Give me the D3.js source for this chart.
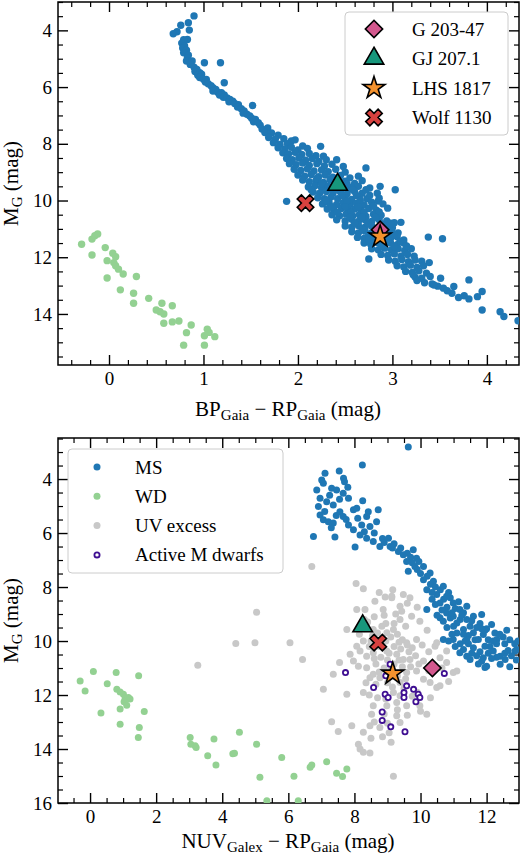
<!DOCTYPE html>
<html>
<head>
<meta charset="utf-8">
<script src="https://cdn.jsdelivr.net/npm/d3@7"></script>
<style>
  body { margin: 0; background: #fff; }
  text { font-family: "Liberation Serif", "DejaVu Serif", serif; fill: #000; }
</style>
</head>
<body>
<div id="wrapper"></div>
<script>
//* Data: [colour, absolute G magnitude]

// top panel: BP-RP vs M_G
const topMS = [
  [0.90,3.49],[0.84,3.73],[0.76,3.82],[0.85,3.99],[0.72,4.05],[0.68,4.12],[0.83,4.32],[0.79,4.33],[0.77,4.45],
  [0.80,4.55],[0.78,4.62],[0.82,4.70],[0.79,4.79],[0.84,4.88],[0.83,4.97],[0.82,5.08],[0.88,5.08],[0.86,5.20],
  [0.90,5.30],[1.01,5.14],[1.18,5.14],[0.93,5.38],[0.91,5.45],[0.96,5.49],[0.94,5.58],[0.98,5.55],[0.96,5.66],
  [1.00,5.72],[1.03,5.73],[1.02,5.82],[1.22,5.85],[1.05,5.88],[1.08,5.95],[1.10,6.02],[1.13,6.08],[1.10,6.14],
  [1.15,6.18],[1.19,6.20],[1.17,6.28],[1.22,6.28],[1.21,6.36],[1.25,6.38],[1.28,6.44],[1.27,6.52],[1.31,6.50],
  [1.33,6.58],[1.37,6.62],[1.36,6.70],[1.52,6.65],[1.40,6.76],[1.43,6.84],[1.42,6.92],[1.46,6.96],[1.49,7.02],
  [1.51,7.10],[1.55,7.14],[1.53,7.22],[1.58,7.26],[1.60,7.34],
  [1.62,7.48],[1.68,7.44],[1.65,7.60],[1.72,7.62],[1.79,7.70],[1.69,7.78],[1.76,7.84],[1.85,7.82],[1.93,7.90],
  [1.74,7.96],[1.81,8.02],[1.89,8.00],[1.97,7.86],[2.05,8.08],[1.79,8.14],[1.86,8.18],[1.93,8.12],[2.00,8.22],
  [2.10,8.16],[2.24,8.09],[1.84,8.32],[1.90,8.36],[1.97,8.30],[2.04,8.38],[2.12,8.34],[2.19,8.42],[2.27,8.44],
  [1.88,8.52],[1.94,8.56],[2.01,8.50],[2.08,8.58],[2.15,8.52],[2.22,8.62],[2.30,8.56],[2.41,8.56],[1.91,8.70],
  [1.98,8.74],[2.05,8.68],[2.12,8.76],[2.20,8.70],[2.28,8.78],[2.36,8.72],[2.48,8.80],[1.96,8.90],[2.03,8.94],
  [2.10,8.88],[2.17,8.96],[2.25,8.92],[2.32,8.98],[2.40,8.90],[2.50,9.00],[2.72,8.85],[2.00,9.10],[2.07,9.14],
  [2.14,9.08],[2.22,9.16],[2.29,9.10],[2.37,9.18],[2.45,9.12],[2.55,9.20],[2.64,9.14],[2.05,9.28],[2.12,9.34],
  [2.19,9.30],[2.27,9.36],[2.34,9.28],[2.42,9.38],[2.50,9.32],[2.60,9.40],[2.68,9.30],[2.11,9.52],[2.18,9.48],
  [2.25,9.54],[2.32,9.50],[2.39,9.56],[2.47,9.48],[2.55,9.54],[2.64,9.50],[2.76,9.56],[2.87,9.50],[3.03,9.62],
  [2.16,9.70],[2.23,9.74],[2.30,9.68],[2.37,9.74],[2.45,9.70],[2.52,9.76],[2.60,9.68],[2.68,9.74],[2.84,9.74],
  [2.21,9.90],[2.28,9.94],[2.35,9.88],[2.42,9.94],[2.50,9.90],[2.57,9.96],[2.65,9.88],[2.73,9.94],[2.86,9.92],
  [1.88,10.03],[2.26,10.12],[2.33,10.08],[2.41,10.14],[2.48,10.08],[2.55,10.14],[2.62,10.10],[2.70,10.16],
  [2.78,10.06],[2.90,10.12],[2.31,10.30],[2.38,10.34],[2.46,10.28],[2.53,10.34],[2.60,10.30],[2.67,10.36],
  [2.75,10.28],[2.83,10.34],[2.95,10.27],[2.36,10.50],[2.44,10.54],[2.51,10.48],[2.58,10.54],[2.65,10.50],
  [2.72,10.56],[2.80,10.48],[2.88,10.52],[2.41,10.68],[2.50,10.72],[2.57,10.66],[2.64,10.74],[2.71,10.68],
  [2.78,10.74],[2.86,10.68],[2.94,10.72],[3.02,10.78],[3.09,10.77],[2.50,10.90],[2.57,10.94],[2.64,10.88],
  [2.71,10.94],[2.78,10.90],[2.85,10.96],[2.92,10.90],[3.00,10.96],[2.57,11.10],[2.64,11.14],[2.71,11.08],
  [2.78,11.14],[2.85,11.10],[2.92,11.16],[2.99,11.08],[3.06,11.14],[2.63,11.30],[2.70,11.34],[2.77,11.28],
  [2.84,11.36],[2.91,11.30],[2.98,11.34],[3.05,11.28],[3.12,11.39],[3.38,11.29],[3.53,11.35],[2.70,11.50],
  [2.77,11.54],[2.84,11.48],[2.91,11.54],[2.98,11.50],[3.05,11.56],[3.12,11.50],[2.78,11.70],[2.85,11.74],
  [2.92,11.68],[2.99,11.74],[3.06,11.70],[3.13,11.76],[3.20,11.70],[2.75,12.06],[2.88,11.90],[2.95,11.94],
  [3.02,11.88],[3.09,11.96],[3.16,11.90],[3.23,11.96],[2.96,12.10],[3.03,12.14],[3.10,12.08],[3.17,12.16],
  [3.24,12.10],[3.31,12.14],[3.39,12.19],[3.05,12.30],[3.12,12.34],[3.19,12.28],[3.26,12.36],[3.33,12.30],
  [3.14,12.50],[3.21,12.54],[3.28,12.48],[3.36,12.56],[3.24,12.70],[3.31,12.74],[3.40,12.68],[3.51,12.74],
  [3.26,12.82],[3.34,12.90],[3.42,12.94],[3.81,12.80],[3.54,13.09],[3.65,13.03],[3.48,13.02],[3.63,13.27],
  [3.58,13.18],[3.70,13.42],[3.76,13.36],[3.81,13.47],[3.90,13.39],[3.95,13.21],[3.95,13.86],[4.14,13.92],
  [4.18,14.09],[4.33,14.24],
  [2.14,9.62],[2.41,9.62],[2.58,9.62],[2.72,9.62],[2.47,9.82],[2.62,9.82],[2.76,9.82],[2.30,10.00],[2.52,10.02],
  [2.66,10.00],[2.85,10.02],[2.36,10.22],[2.50,10.22],[2.64,10.22],[2.80,10.20],[2.42,10.42],[2.56,10.42],
  [2.70,10.42],[2.86,10.40],[2.55,10.60],[2.68,10.60],[2.82,10.60],[2.60,10.80],[2.74,10.80],[2.88,10.82],
  [2.68,11.00],[2.82,11.02],[2.96,11.00],[2.75,11.20],[2.88,11.22],[3.02,11.20],[2.80,11.42],[2.95,11.42],
  [3.08,11.44],[2.88,11.62],[3.02,11.62],[3.15,11.60],[2.20,9.22],[2.35,9.22],[2.52,9.42],[2.25,9.40],
  [2.75,11.39],[2.98,10.80],[3.44,12.98],[3.22,12.62]
];

const topWD = [
  [-0.29,11.54],[-0.18,11.36],[-0.15,11.24],[-0.12,11.18],[-0.18,11.92],[-0.04,11.66],[-0.02,12.12],[0.04,11.86],
  [0.07,11.98],[0.05,12.19],[0.07,12.30],[0.10,12.42],[0.15,12.59],[-0.02,12.73],[0.29,12.68],[0.12,13.15],
  [0.26,13.27],[0.26,13.62],[0.42,13.45],[0.56,13.62],[0.50,13.86],[0.54,13.92],[0.58,14.00],[0.67,13.71],
  [0.58,14.33],[0.67,14.28],[0.74,14.25],[0.87,14.39],[0.82,14.66],[0.79,15.10],[1.01,14.77],[1.04,14.54],
  [1.06,14.65],[1.12,14.80],[1.01,15.10]
];

// bottom panel: NUV-RP vs M_G
const botMS = [
  [9.63,2.81],[8.24,3.48],[7.11,3.79],[7.54,3.70],[7.67,3.97],[7.01,4.04],[7.06,4.16],[7.70,4.10],[6.86,4.41],
  [7.31,4.34],[7.46,4.41],[7.66,4.53],[7.82,4.71],[6.96,4.71],[7.25,4.60],[7.55,4.75],[7.16,4.84],[7.36,4.96],
  [6.91,5.02],[7.10,5.20],[6.96,5.33],[7.06,5.51],[7.21,5.58],[7.36,5.63],[7.45,5.35],[7.56,5.21],[7.66,5.39],
  [7.75,5.50],[7.97,5.14],[8.07,5.08],[8.10,5.45],[8.42,5.21],[8.37,5.39],[8.72,5.14],[8.67,5.58],[7.82,5.70],
  [7.97,5.88],[8.22,5.70],[8.47,5.76],[8.30,5.95],[8.60,6.00],[6.76,6.13],[7.41,6.15],[8.02,6.52],[8.17,6.07],
  [8.37,6.19],[8.57,6.31],[8.77,6.50],[8.85,6.20],[8.90,6.35],[9.03,6.19],[9.08,6.50],[9.20,6.40],[9.15,6.55],
  [9.33,6.68],[9.40,6.55],[9.48,6.80],[9.60,6.75],[9.78,6.62],[9.70,6.90],[9.58,7.05],[9.88,6.93],[9.75,7.10],
  [9.95,7.05],[9.63,7.42],[9.90,7.35],[10.09,7.24],[10.00,7.50],[10.29,7.48],[9.83,7.24],[10.20,7.60],
  [10.09,7.73],[10.39,7.79],[10.30,7.90],[10.45,8.00],[10.60,8.10],[10.69,7.97],[10.19,8.10],[10.49,8.28],
  [10.35,8.45],[10.70,8.45],[10.90,8.40],[10.79,8.34],[10.99,8.59],[10.59,8.59],[10.19,8.83],[10.80,8.75],
  [11.05,8.80],[10.79,8.96],[11.19,8.83],[11.40,8.71],[11.30,8.95],[10.59,9.14],[10.90,9.15],[10.99,9.08],
  [11.20,9.20],[10.69,9.27],[11.10,9.33],[11.40,9.20],[11.60,9.08],[11.85,9.02],[11.50,9.45],[11.80,9.35],
  [12.15,9.39],[12.00,9.55],[12.61,9.60],[11.30,9.57],[11.10,9.70],[11.60,9.69],[11.45,9.80],[11.90,9.76],
  [10.69,9.94],[10.85,10.00],[10.99,9.94],[11.40,9.94],[11.65,9.95],[11.75,9.94],[12.05,9.95],[12.31,9.94],
  [12.50,9.85],[11.05,10.20],[11.20,10.10],[11.45,10.10],[12.10,10.20],[12.30,10.10],[12.86,10.37],[12.65,10.35],
  [11.30,10.31],[11.60,10.25],[11.95,10.19],[11.80,10.40],[12.20,10.37],[12.41,10.56],[12.30,10.60],[11.50,10.68],
  [11.70,10.55],[11.90,10.62],[12.15,10.65],[11.95,10.98],[12.41,10.86],[11.75,10.85],[11.19,10.43],[11.40,10.56],
  [12.00,10.93],[12.56,10.68],[12.70,10.95],[12.91,10.31],[12.90,10.70],
  [10.45,8.65],[10.65,8.85],[10.95,8.95],[11.25,9.05],[11.55,9.25],[11.70,9.50],[11.95,9.60],[12.25,9.70],
  [12.40,9.75],[12.70,9.95],[12.85,10.10],[10.50,9.05],[10.80,9.50],[11.00,9.45],[11.30,9.75],[11.85,9.55],
  [12.20,10.00],[12.55,10.10],[12.75,10.55],[12.55,10.45],[11.35,10.00],[11.55,10.45],[11.85,10.75],[12.05,10.45],
  [10.95,9.75],[10.35,8.20],[10.85,8.20],[11.15,8.55],[12.95,10.00],[7.80,4.30],[8.25,4.80],[7.30,5.80]
];

const botWD = [
  [-0.30,11.48],[-0.15,11.85],[0.10,11.13],[0.33,12.67],[0.52,11.58],[0.79,11.17],[0.81,11.79],[0.91,11.89],
  [1.01,11.97],[1.06,12.15],[1.16,12.09],[1.21,12.15],[1.03,12.25],[1.11,12.38],[0.91,12.52],[0.91,13.08],
  [1.47,11.29],[1.64,12.61],[1.49,13.20],[1.46,13.57],[3.03,13.57],[3.05,13.82],[3.18,13.88],[3.21,13.94],
  [3.56,14.25],[3.75,13.63],[3.81,14.59],[4.32,14.18],[4.37,14.16],[4.52,13.38],[5.04,13.82],[5.14,15.05],
  [5.80,14.31],[6.17,15.01],[6.66,14.68],[6.71,14.59],[7.16,14.47],[7.46,14.90],[7.64,15.02],[7.77,14.74],
  [5.35,15.92],[6.30,15.92]
];

const botUV = [
  [5.04,8.93],[6.71,7.24],[4.41,10.09],[4.99,10.06],[3.26,10.90],[8.05,7.87],[8.27,8.06],[9.16,8.10],[9.48,8.28],
  [9.68,8.40],[8.62,8.53],[8.93,8.37],[9.13,8.40],[9.38,8.71],[9.43,8.90],[8.32,8.83],[8.87,8.83],[9.73,9.08],
  [9.38,9.20],[8.83,9.45],[7.77,9.57],[8.57,9.57],[8.98,9.69],[9.18,9.57],[9.58,10.06],[9.88,9.94],[8.27,10.00],
  [8.07,10.19],[6.05,10.06],[6.43,10.68],[7.87,10.49],[8.17,10.37],[8.37,10.56],[8.57,10.43],[8.98,10.37],
  [9.28,10.49],[9.48,10.68],[9.68,10.68],[10.09,10.74],[10.59,10.62],[10.79,10.37],[10.44,10.19],[7.97,10.74],
  [8.12,10.93],[7.36,11.23],[8.37,10.99],[8.57,11.23],[8.77,11.36],[9.58,11.17],[9.88,11.11],[10.09,11.42],
  [10.99,11.17],[10.29,11.54],[10.49,11.72],[9.38,11.54],[9.18,11.91],[9.38,12.03],[9.28,12.28],[9.58,12.40],
  [9.98,12.40],[10.19,12.71],[7.06,11.79],[7.77,11.97],[8.27,11.91],[8.57,12.40],[8.98,12.40],[8.52,12.71],
  [9.28,12.77],[9.38,13.02],[7.31,12.99],[7.92,13.14],[8.47,13.14],[8.77,13.20],[7.51,13.35],[8.27,13.38],
  [9.11,13.75],[8.12,13.82],[8.17,14.00],[8.27,14.12],[8.47,14.15],[9.18,15.01],[9.13,8.34],[9.98,9.27],
  [8.07,8.83],[10.49,10.06],[11.10,11.11],[10.79,10.80],[10.59,11.66],[8.47,11.36],[8.40,9.30],[8.55,9.80],
  [8.70,9.70],[8.45,10.20],[8.95,10.00],[9.10,9.85],[9.30,9.75],[9.45,9.95],[9.20,10.20],[9.40,10.30],
  [9.65,10.40],[9.85,10.55],[8.80,10.60],[9.00,10.70],[9.20,10.85],[9.45,10.95],[8.65,10.85],[8.90,11.00],
  [9.70,10.95],[9.30,11.30],[9.55,11.40],[8.35,11.55],[8.65,11.60],[9.00,11.55],[9.15,11.70],[9.30,12.55],
  [8.90,12.70],[8.85,13.55],[9.05,13.40],[9.90,11.90],[10.30,12.10],[10.00,12.60],[8.30,9.55],[8.15,9.75],
  [9.90,8.75],[9.60,8.60],[8.75,8.20],[10.20,9.60],[10.05,10.15],[7.55,10.80],
  [8.50,10.00],[8.75,10.20],[9.05,10.45],[9.35,10.05],[8.60,10.65],[9.10,11.10],[9.35,10.70],[8.75,11.15],
  [9.60,10.15],[9.75,10.25],[8.95,9.35],[9.20,9.35],[9.55,9.45],[8.60,9.10],[8.90,9.05],[9.25,9.00],
  [9.50,11.75],[9.75,12.05],[8.70,12.10],[8.45,12.00],[8.95,12.15],[9.60,12.75],[8.60,13.00],[9.00,13.05],
  [8.50,13.60],[8.30,9.20],[10.25,10.40],[10.35,10.90],[9.95,10.85],[10.65,11.00],[10.85,11.50],[10.25,11.10]
];

const botActive = [
  [7.73,11.17],[9.08,10.86],[8.95,11.29],[8.58,11.72],[8.93,11.97],[9.02,12.09],[9.58,11.66],[9.79,11.79],
  [9.50,11.91],[9.50,12.09],[9.93,11.97],[9.98,12.09],[9.86,12.25],[8.84,12.63],[8.84,12.94],[9.10,13.18],
  [9.53,13.36],[10.72,11.20]
];

// the four named stars
const targetNames = ["G 203-47", "GJ 207.1", "LHS 1817", "Wolf 1130"];
const targetTop = [[2.87,11.03],[2.42,9.44],[2.87,11.27],[2.08,10.09]];
const targetBot = [[10.36,11.00],[8.25,9.45],[9.16,11.21],[8.72,10.06]];

// tick labels
const topXTicks = [0, 1, 2, 3, 4];
const topYTicks = [4, 6, 8, 10, 12, 14];
const botXTicks = [0, 2, 4, 6, 8, 10, 12];
const botYTicks = [4, 6, 8, 10, 12, 14, 16];

const groupNames = ["MS", "WD", "UV excess", "Active M dwarfs"];

function drawChart() {
  //* Step 1. Dimensions
  const dimensions = {
    width: 520,
    height: 860,
    left: 58,
    right: 519,
    panels: [
      { top: 2, bottom: 365 },
      { top: 438, bottom: 803 },
    ],
  };

  const colors = {
    ms: "#1f77b4",
    wd: "#93d192",
    uv: "#c8c8c8",
    active: "#3f0f92",
    targets: ["#d3588e", "#17977c", "#f4922e", "#d8413f"],
  };

  const symbols = [
    { type: d3.symbolSquare, size: 150, rotate: 45 },
    { type: d3.symbolTriangle, size: 165, rotate: 0 },
    { type: d3.symbolStar, size: 150, rotate: 0 },
    { type: d3.symbolCross, size: 170, rotate: 45 },
  ];

  //* Step 2. Canvas
  const svg = d3
    .select("#wrapper")
    .append("svg")
    .attr("width", dimensions.width)
    .attr("height", dimensions.height);

  //* Step 3. Scales
  const xTop = d3.scaleLinear().domain([-0.54, 4.34]).range([dimensions.left, dimensions.right]);
  const yTop = d3.scaleLinear().domain([3, 15.8]).range([dimensions.panels[0].top, dimensions.panels[0].bottom]);
  const xBot = d3.scaleLinear().domain([-0.97, 12.98]).range([dimensions.left, dimensions.right]);
  const yBot = d3.scaleLinear().domain([2.48, 16]).range([dimensions.panels[1].top, dimensions.panels[1].bottom]);

  function range(a, b, step) {
    return d3.range(Math.ceil(a / step), Math.floor(b / step) + 1).map((i) => +(i * step).toFixed(3));
  }

  //* Step 4. Panel frame + ticks on all four sides
  function drawFrame(id, x, y, xMajor, yMajor, xMinorStep, yMinorStep) {
    const g = svg.append("g").attr("id", id);
    const [x0, x1] = x.range();
    const [y0, y1] = y.range();

    g.append("clipPath")
      .attr("id", id + "-clip")
      .append("rect")
      .attr("x", x0)
      .attr("y", y0)
      .attr("width", x1 - x0)
      .attr("height", y1 - y0);

    const xMinor = range(x.domain()[0], x.domain()[1], xMinorStep).filter((v) => !xMajor.includes(v));
    const yMinor = range(y.domain()[0], y.domain()[1], yMinorStep).filter((v) => !yMajor.includes(v));

    const specs = [
      { gen: d3.axisBottom, s: x, t: `translate(0,${y1})`, major: xMajor, minor: xMinor, label: true },
      { gen: d3.axisTop, s: x, t: `translate(0,${y0})`, major: xMajor, minor: xMinor, label: false },
      { gen: d3.axisLeft, s: y, t: `translate(${x0},0)`, major: yMajor, minor: yMinor, label: true },
      { gen: d3.axisRight, s: y, t: `translate(${x1},0)`, major: yMajor, minor: yMinor, label: false },
    ];

    specs.forEach((sp) => {
      const vertical = sp.gen === d3.axisLeft || sp.gen === d3.axisRight;
      const majorAxis = sp
        .gen(sp.s)
        .tickValues(sp.major)
        .tickSize(-10)
        .tickPadding(vertical ? 6 : 7)
        .tickFormat(sp.label ? d3.format("d") : () => "");
      const ga = g.append("g").attr("transform", sp.t).call(majorAxis);
      ga.select(".domain").remove();
      ga.selectAll("line").attr("stroke", "#000").attr("stroke-width", 1.4);
      ga.selectAll("text")
        .style("font-family", '"Liberation Serif", serif')
        .style("font-size", "19px");

      const minorAxis = sp.gen(sp.s).tickValues(sp.minor).tickSize(-5).tickFormat(() => "");
      const gm = g.append("g").attr("transform", sp.t).call(minorAxis);
      gm.select(".domain").remove();
      gm.selectAll("line").attr("stroke", "#000").attr("stroke-width", 1.2);
    });

    g.append("rect")
      .attr("x", x0)
      .attr("y", y0)
      .attr("width", x1 - x0)
      .attr("height", y1 - y0)
      .attr("fill", "none")
      .attr("stroke", "#000")
      .attr("stroke-width", 1.5);

    // y label: M_G (mag)
    const yl = g
      .append("text")
      .attr("transform", `translate(18,${(y0 + y1) / 2}) rotate(-90)`)
      .attr("text-anchor", "middle")
      .style("font-size", "21px");
    yl.append("tspan").text("M");
    yl.append("tspan").attr("dy", 4).style("font-size", "15px").text("G");
    yl.append("tspan").attr("dy", -4).text(" (mag)");

    return g;
  }

  function colourLabel(g, y, band, bandSub) {
    const t = g
      .append("text")
      .attr("x", 288)
      .attr("y", y)
      .attr("text-anchor", "middle")
      .style("font-size", "21px");
    t.append("tspan").text(band);
    t.append("tspan").attr("dy", 4).style("font-size", "15px").text(bandSub);
    t.append("tspan").attr("dy", -4).text(" \u2212 RP");
    t.append("tspan").attr("dy", 4).style("font-size", "15px").text("Gaia");
    t.append("tspan").attr("dy", -4).text(" (mag)");
  }

  function dots(g, clipId, data, x, y, r, fill, stroke, sw) {
    g.append("g")
      .attr("clip-path", `url(#${clipId})`)
      .selectAll("circle")
      .data(data)
      .join("circle")
      .attr("cx", (d) => x(d[0]))
      .attr("cy", (d) => y(d[1]))
      .attr("r", r)
      .attr("fill", fill)
      .attr("stroke", stroke || "none")
      .attr("stroke-width", sw || 0);
  }

  function targets(g, clipId, data, x, y) {
    g.append("g")
      .attr("clip-path", `url(#${clipId})`)
      .selectAll("path")
      .data(data)
      .join("path")
      .attr("d", (d, i) => d3.symbol().type(symbols[i].type).size(symbols[i].size)())
      .attr("transform", (d, i) => `translate(${x(d[0])},${y(d[1])}) rotate(${symbols[i].rotate})`)
      .attr("fill", (d, i) => colors.targets[i])
      .attr("stroke", "#000")
      .attr("stroke-width", 1.6)
      .attr("stroke-linejoin", "miter");
  }

  //* Step 5. Top panel
  const g1 = drawFrame("top", xTop, yTop, topXTicks, topYTicks, 0.2, 0.5);
  dots(g1, "top-clip", topMS, xTop, yTop, 3.7, colors.ms);
  dots(g1, "top-clip", topWD, xTop, yTop, 3.7, colors.wd);
  targets(g1, "top-clip", targetTop, xTop, yTop);
  colourLabel(g1, 416, "BP", "Gaia");

  //* Step 6. Bottom panel
  const g2 = drawFrame("bottom", xBot, yBot, botXTicks, botYTicks, 0.5, 0.5);
  dots(g2, "bottom-clip", botMS, xBot, yBot, 3.5, colors.ms);
  dots(g2, "bottom-clip", botWD, xBot, yBot, 3.5, colors.wd);
  dots(g2, "bottom-clip", botUV, xBot, yBot, 3.5, colors.uv);
  dots(g2, "bottom-clip", botActive, xBot, yBot, 2.6, "#fff", colors.active, 1.8);
  targets(g2, "bottom-clip", targetBot, xBot, yBot);
  colourLabel(g2, 848, "NUV", "Galex");

  //* Step 7. Legends
  const leg1 = svg.append("g");
  leg1.append("rect")
    .attr("x", 345).attr("y", 12).attr("width", 163).attr("height", 123)
    .attr("rx", 4).attr("fill", "#fff").attr("fill-opacity", 0.8)
    .attr("stroke", "#cccccc").attr("stroke-width", 1);
  const rows1 = leg1.selectAll("g.row").data(targetNames).join("g")
    .attr("class", "row")
    .attr("transform", (d, i) => `translate(0,${29 + i * 29.5})`);
  rows1.append("path")
    .attr("d", (d, i) => d3.symbol().type(symbols[i].type).size(symbols[i].size)())
    .attr("transform", (d, i) => `translate(374,0) rotate(${symbols[i].rotate})`)
    .attr("fill", (d, i) => colors.targets[i])
    .attr("stroke", "#000")
    .attr("stroke-width", 1.6);
  rows1.append("text")
    .attr("x", 412).attr("y", 6.5)
    .style("font-size", "19px")
    .text((d) => d);

  const leg2 = svg.append("g");
  leg2.append("rect")
    .attr("x", 68).attr("y", 449).attr("width", 215).attr("height", 124)
    .attr("rx", 4).attr("fill", "#fff").attr("fill-opacity", 0.8)
    .attr("stroke", "#cccccc").attr("stroke-width", 1);
  const legColors = [colors.ms, colors.wd, colors.uv, "#fff"];
  const rows2 = leg2.selectAll("g.row").data(groupNames).join("g")
    .attr("class", "row")
    .attr("transform", (d, i) => `translate(0,${467 + i * 29.3})`);
  rows2.append("circle")
    .attr("cx", 97)
    .attr("r", (d, i) => (i === 3 ? 2.6 : 3.5))
    .attr("fill", (d, i) => legColors[i])
    .attr("stroke", (d, i) => (i === 3 ? colors.active : "none"))
    .attr("stroke-width", 1.8);
  rows2.append("text")
    .attr("x", 135).attr("y", 6.5)
    .style("font-size", "19px")
    .text((d) => d);
}

drawChart();
</script>
</body>
</html>
